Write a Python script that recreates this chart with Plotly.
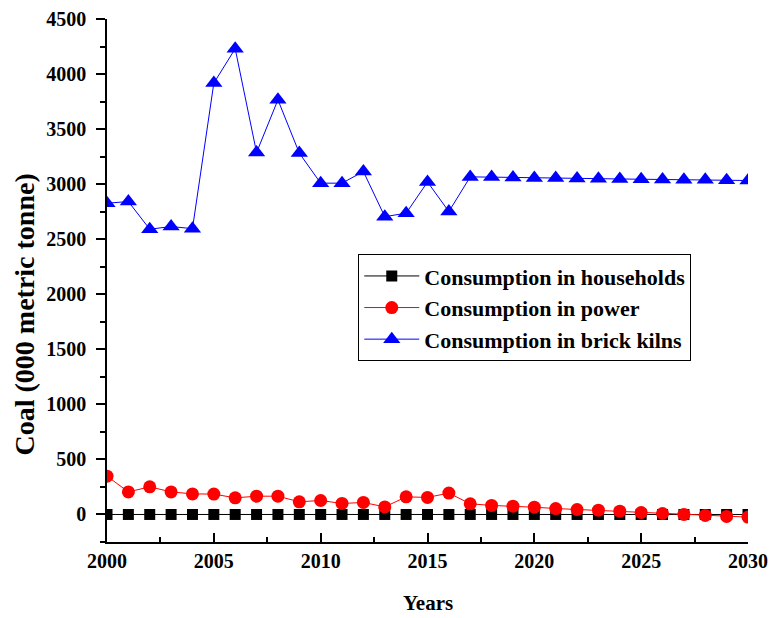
import plotly.graph_objects as go

years = list(range(2000, 2031))
households = [0] * 31
power = [348, 205, 251, 205, 187, 185, 151, 166, 166, 115, 127, 100, 109, 69, 160,
         155, 194, 97, 82, 75, 66, 54, 45, 39, 30, 18, 9, 0, -9, -18, -24]
brick_kilns = [2827, 2842, 2591, 2615, 2596, 3918, 4230, 3287, 3766, 3282, 3009, 3009,
               3115, 2705, 2736, 3020, 2751, 3066, 3064, 3060, 3057, 3055, 3052, 3050,
               3047, 3045, 3043, 3041, 3039, 3036, 3033]

FONT = "Liberation Serif, Times New Roman, serif"

fig = go.Figure()
fig.add_trace(go.Scatter(x=years, y=households, mode="lines+markers",
                         name="<b>Consumption in households</b>",
                         line=dict(color="black", width=1),
                         marker=dict(symbol="square", size=11, color="black")))
fig.add_trace(go.Scatter(x=years, y=power, mode="lines+markers",
                         name="<b>Consumption in power</b>",
                         line=dict(color="red", width=1),
                         marker=dict(symbol="circle", size=13, color="red")))
fig.add_trace(go.Scatter(x=years, y=brick_kilns, mode="lines+markers",
                         name="<b>Consumption in brick kilns</b>",
                         line=dict(color="blue", width=1),
                         marker=dict(symbol="triangle-up", size=15, color="blue")))

fig.update_layout(
    template="none",
    autosize=False,
    width=772, height=618,
    margin=dict(l=107, r=24, t=19, b=76, pad=0),
    paper_bgcolor="white", plot_bgcolor="white",
    font=dict(family=FONT, size=20, color="black"),
    showlegend=True,
    legend=dict(x=0.392, y=0.5504, xanchor="left", yanchor="top",
                bordercolor="black", borderwidth=1, bgcolor="white",
                font=dict(family=FONT, size=22, color="black"),
                tracegroupgap=0, itemwidth=55),
    xaxis=dict(range=[2000, 2030], tickmode="linear", tick0=2000, dtick=5,
               ticks="inside", ticklen=9, tickwidth=1.5, tickcolor="black",
               showline=True, linecolor="black", linewidth=1.5, showgrid=False,
               zeroline=False, automargin=False,
               tickfont=dict(family=FONT, size=20, color="black", weight="bold"),
               minor=dict(ticks="inside", dtick=2.5, ticklen=5, tickwidth=1.5,
                          tickcolor="black", showgrid=False)),
    yaxis=dict(range=[-250, 4500], tickmode="linear", tick0=0, dtick=500,
               ticks="outside", ticklen=9, tickwidth=1.5, tickcolor="black",
               showline=True, linecolor="black", linewidth=1.5, showgrid=False,
               zeroline=False, automargin=False, ticklabelstandoff=6,
               tickfont=dict(family=FONT, size=20, color="black", weight="bold"),
               minor=dict(ticks="outside", dtick=250, ticklen=5, tickwidth=1.5,
                          tickcolor="black", showgrid=False)),
    annotations=[
        dict(text="<b>Coal (000 metric tonne)</b>", textangle=-90,
             xref="paper", yref="paper", x=-0.129, y=0.4356,
             xanchor="center", yanchor="middle", showarrow=False,
             font=dict(family=FONT, size=28, color="black")),
        dict(text="<b>Years</b>", xref="paper", yref="paper", x=0.5, y=-0.116,
             xanchor="center", yanchor="middle", showarrow=False,
             font=dict(family=FONT, size=21, color="black")),
    ],
)

fig.write_html("out.html", config={"displayModeBar": False, "responsive": False},
               post_script="document.body.style.margin='0';document.body.style.overflow='hidden';")
